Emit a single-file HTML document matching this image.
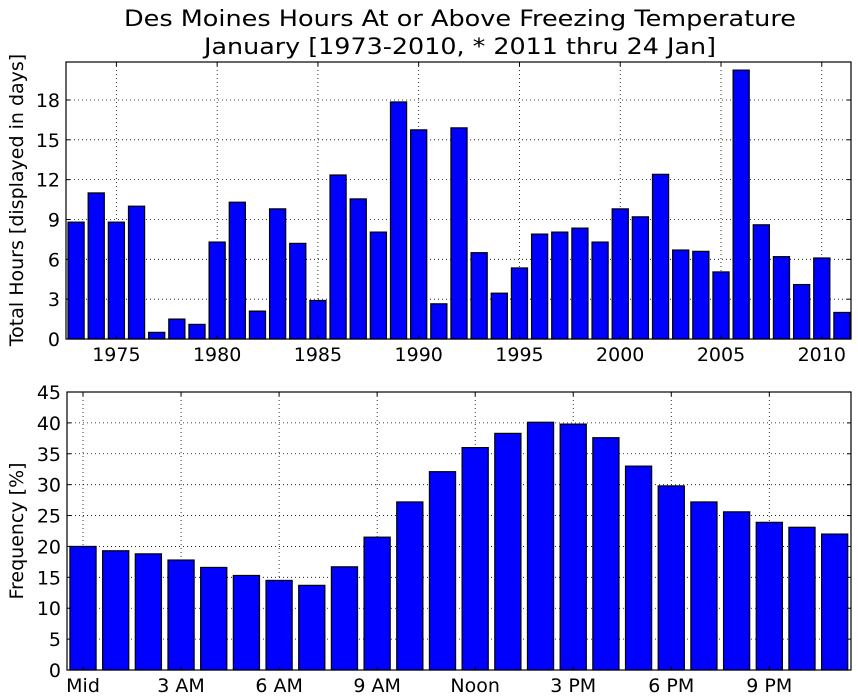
<!DOCTYPE html>
<html><head><meta charset="utf-8"><style>
html,body{margin:0;padding:0;background:#fff;}
svg{display:block;font-family:"DejaVu Sans","Liberation Sans",sans-serif;}
</style></head><body>
<svg id="c" width="858" height="700" viewBox="0 0 858 700" xmlns="http://www.w3.org/2000/svg">
<text x="460" y="26" font-size="22" text-anchor="middle" textLength="672" lengthAdjust="spacingAndGlyphs">Des Moines Hours At or Above Freezing Temperature</text>
<text x="460" y="54" font-size="22" text-anchor="middle" textLength="512" lengthAdjust="spacingAndGlyphs">January [1973-2010, * 2011 thru 24 Jan]</text>
<text transform="translate(23,200) rotate(-90)" font-size="19" text-anchor="middle">Total Hours [displayed in days]</text>
<text transform="translate(23,531) rotate(-90)" font-size="19" text-anchor="middle">Frequency [%]</text>
<g id="top"></g>
<g id="bot"></g>
</svg>
<script>
const years = [1973,1974,1975,1976,1977,1978,1979,1980,1981,1982,1983,1984,1985,1986,1987,1988,1989,1990,1991,1992,1993,1994,1995,1996,1997,1998,1999,2000,2001,2002,2003,2004,2005,2006,2007,2008,2009,2010,2011];
const yearValues = [8.8,11.0,8.8,10.0,0.5,1.5,1.1,7.3,10.3,2.1,9.8,7.2,2.9,12.35,10.55,8.05,17.85,15.75,2.65,15.9,6.5,3.45,5.35,7.9,8.05,8.35,7.3,9.8,9.2,12.4,6.7,6.6,5.05,20.25,8.6,6.2,4.1,6.1,2.0];
const topXTicks = [1975,1980,1985,1990,1995,2000,2005,2010];
const topYTicks = [0,3,6,9,12,15,18];
const hours = [0,1,2,3,4,5,6,7,8,9,10,11,12,13,14,15,16,17,18,19,20,21,22,23];
const hourValues = [20,19.3,18.8,17.8,16.6,15.3,14.5,13.7,16.7,21.5,27.2,32.1,36,38.3,40.1,39.8,37.6,33,29.8,27.2,25.6,23.9,23.1,22];
const botXTicks = [0,3,6,9,12,15,18,21];
const botXLabels = ["Mid","3 AM","6 AM","9 AM","Noon","3 PM","6 PM","9 PM"];
const botYTicks = [0,5,10,15,20,25,30,35,40,45];

const NS="http://www.w3.org/2000/svg";
function mk(p,tag,a){const e=document.createElementNS(NS,tag);for(const k in a)e.setAttribute(k,a[k]);p.appendChild(e);return e;}

function panel(g,cfg){
  const {L,R,T,B,x0,x1,y0,y1,cats,vals,xt,xl,yt,prefix}=cfg;
  const sx=v=>L+(v-x0)/(x1-x0)*(R-L);
  const sy=v=>B-(v-y0)/(y1-y0)*(B-T);
  // grid
  xt.forEach(v=>{const l=mk(g,'line',{x1:sx(v),x2:sx(v),y1:T,y2:B,stroke:'#000','stroke-width':0.8,'stroke-dasharray':'1,3'});
    
    });
  yt.forEach(v=>{const l=mk(g,'line',{x1:L,x2:R,y1:sy(v),y2:sy(v),stroke:'#000','stroke-width':0.8,'stroke-dasharray':'1,3'});
    
    });
  // bars
  const w=(sx(1+x0)-sx(x0))*0.8;
  cats.forEach((c,i)=>{const r=mk(g,'rect',{x:sx(c)-w/2,y:sy(vals[i]),width:w,height:sy(0)-sy(vals[i]),fill:'#0000ff',stroke:'#000','stroke-width':1.2});
    
    });
  // frame
  const f=mk(g,'rect',{x:L,y:T,width:R-L,height:B-T,fill:'none',stroke:'#000','stroke-width':1.2});
  
  
  // ticks & labels
  xt.forEach((v,i)=>{
    mk(g,'line',{x1:sx(v),x2:sx(v),y1:B,y2:B-4,stroke:'#000'});
    mk(g,'line',{x1:sx(v),x2:sx(v),y1:T,y2:T+4,stroke:'#000'});
    const t=mk(g,'text',{x:sx(v),y:B+22,'font-size':19,'text-anchor':'middle'});
    t.textContent=xl?xl[i]:String(v);
    
    });
  yt.forEach(v=>{
    mk(g,'line',{x1:L,x2:L+4,y1:sy(v),y2:sy(v),stroke:'#000'});
    mk(g,'line',{x1:R,x2:R-4,y1:sy(v),y2:sy(v),stroke:'#000'});
    const t=mk(g,'text',{x:L-6,y:sy(v)+7,'font-size':19,'text-anchor':'end'});
    t.textContent=String(v);
    
    });
}
panel(document.getElementById('top'),{L:66,R:851,T:62,B:339,x0:1972.5,x1:2011.45,y0:0,y1:20.86,cats:years,vals:yearValues,xt:topXTicks,xl:null,yt:topYTicks,prefix:'yearly'});
panel(document.getElementById('bot'),{L:67,R:851,T:392,B:670,x0:-0.49,x1:23.5,y0:0,y1:45,cats:hours,vals:hourValues,xt:botXTicks,xl:botXLabels,yt:botYTicks,prefix:'hourly'});
</script>
</body></html>
